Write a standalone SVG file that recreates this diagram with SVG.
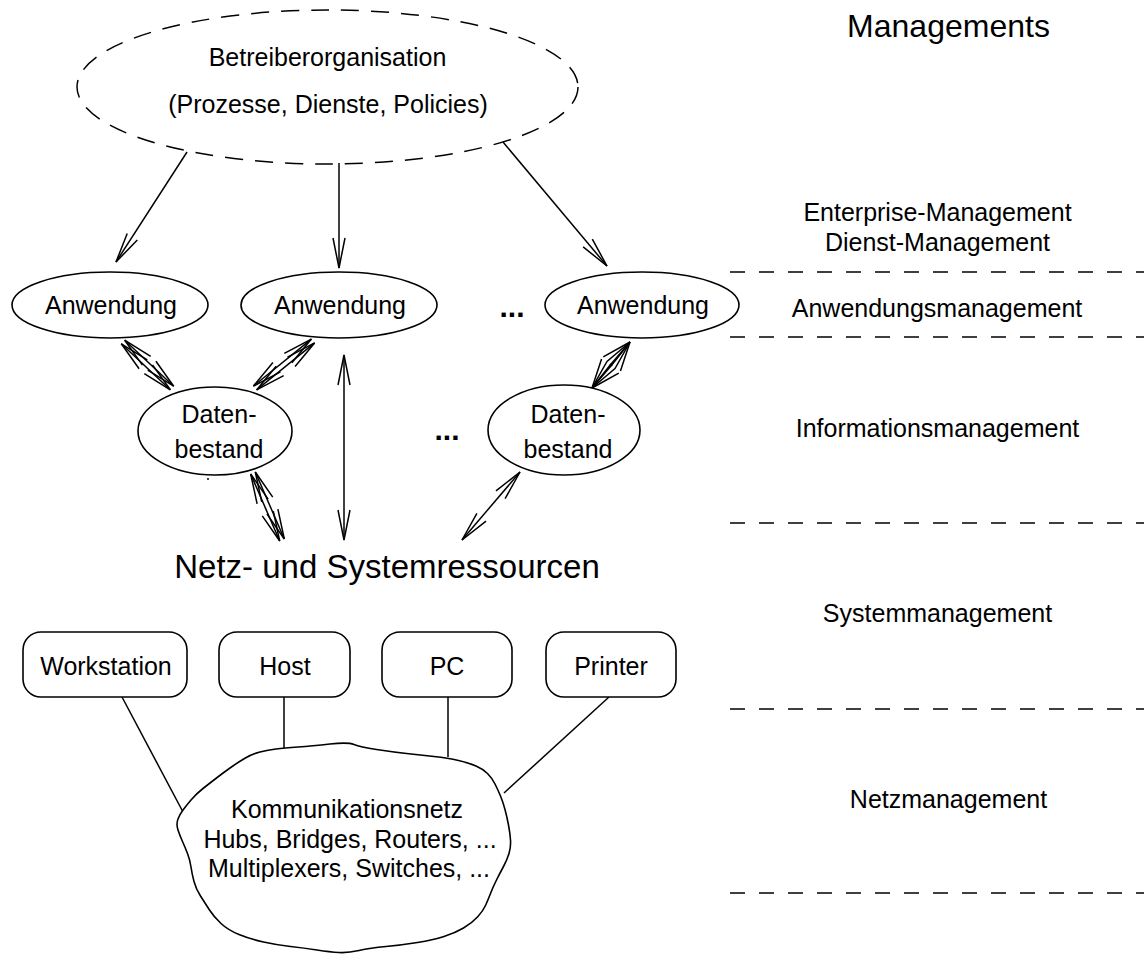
<svg xmlns="http://www.w3.org/2000/svg" width="1144" height="956" viewBox="0 0 1144 956">
<defs>
<marker id="ah" markerUnits="userSpaceOnUse" viewBox="-32 -8 34 16" refX="0" refY="0" markerWidth="34" markerHeight="16" orient="auto-start-reverse">
<path d="M-30,-6 L0,0 L-30,6" fill="none" stroke="#000" stroke-width="1.5"/>
</marker>
</defs>
<style>
.t{font-family:"Liberation Sans",Arial,sans-serif;font-size:25px;fill:#000;text-anchor:middle}
.n{fill:#fff;stroke:#000;stroke-width:1.6}
.c{fill:none;stroke:#000;stroke-width:1.5}
.a{marker-end:url(#ah)}
.aa{marker-start:url(#ah);marker-end:url(#ah)}
.d{fill:none;stroke:#000;stroke-width:1.5;stroke-dasharray:15 14}
</style>
<rect width="1144" height="956" fill="#fff"/>

<g id="levels">
<text class="t" x="948.5" y="37" style="font-size:32px">Managements</text>
<text class="t" x="937.5" y="221">Enterprise-Management</text>
<text class="t" x="937.5" y="251">Dienst-Management</text>
<line class="d" x1="730" y1="272" x2="1144" y2="272"/>
<text class="t" x="937" y="317">Anwendungsmanagement</text>
<line class="d" x1="730" y1="337" x2="1144" y2="337"/>
<text class="t" x="937.5" y="437">Informationsmanagement</text>
<line class="d" x1="730" y1="523" x2="1144" y2="523"/>
<text class="t" x="937.5" y="622">Systemmanagement</text>
<line class="d" x1="730" y1="709" x2="1144" y2="709"/>
<text class="t" x="948.5" y="808">Netzmanagement</text>
<line class="d" x1="730" y1="893" x2="1144" y2="893"/>
</g>

<g id="connectors">
<line class="c a" x1="187" y1="152" x2="116" y2="262"/>
<line class="c a" x1="339" y1="163" x2="339" y2="268"/>
<line class="c a" x1="503" y1="142" x2="607" y2="266"/>
<line class="c aa" x1="121.3" y1="343.8" x2="170.3" y2="389.8"/>
<line class="c aa" x1="124.7" y1="340.2" x2="173.7" y2="386.2"/>
<line class="c aa" x1="311.4" y1="339.1" x2="253.4" y2="386.1"/>
<line class="c aa" x1="314.6" y1="342.9" x2="256.6" y2="389.9"/>
<line class="c aa" x1="344" y1="355" x2="344" y2="540"/>
<polyline class="c aa" points="630,342 615,368.5 592,388"/>
<polyline class="c aa" points="630,342 607,361.5 592,388"/>
<line class="c aa" x1="250.7" y1="474" x2="279.7" y2="541"/>
<line class="c aa" x1="255.3" y1="472" x2="284.3" y2="539"/>
<line class="c aa" x1="520" y1="472" x2="462" y2="540"/>
<line class="c" x1="122" y1="697" x2="183" y2="812"/>
<line class="c" x1="284" y1="697" x2="284" y2="748"/>
<line class="c" x1="448" y1="697" x2="448" y2="757"/>
<line class="c" x1="609" y1="697" x2="504" y2="793"/>
</g>

<g id="betreiber">
<ellipse cx="327.5" cy="87" rx="250.5" ry="77" fill="none" stroke="#000" stroke-width="1.5" stroke-dasharray="18 12"/>
<text class="t" x="327.5" y="66">Betreiberorganisation</text>
<text class="t" x="328" y="113">(Prozesse, Dienste, Policies)</text>
</g>

<g id="anw1"><ellipse class="n" cx="110" cy="305" rx="98" ry="33"/><text class="t" x="111" y="314">Anwendung</text></g>
<g id="anw2"><ellipse class="n" cx="339" cy="305" rx="98" ry="33"/><text class="t" x="340" y="314">Anwendung</text></g>
<g id="dots1"><text class="t" x="512" y="317" style="font-weight:bold;font-size:30px">...</text></g>
<g id="anw3"><ellipse class="n" cx="642" cy="305" rx="97" ry="33"/><text class="t" x="643" y="314">Anwendung</text></g>

<g id="daten1"><ellipse class="n" cx="215" cy="431" rx="77" ry="44"/><text class="t" x="219" y="423">Daten-</text><text class="t" x="219" y="458">bestand</text></g>
<g id="dots2"><text class="t" x="447" y="440" style="font-weight:bold;font-size:30px">...</text></g>
<g id="daten2"><ellipse class="n" cx="564" cy="430" rx="76" ry="45"/><text class="t" x="568" y="423">Daten-</text><text class="t" x="568" y="458">bestand</text></g>
<circle cx="208" cy="479" r="1" fill="#000"/>

<g id="ressourcen"><text class="t" x="387" y="578" style="font-size:33px">Netz- und Systemressourcen</text></g>

<g id="workstation"><rect class="n" x="23" y="632" width="164" height="65" rx="18"/><text class="t" x="106" y="675">Workstation</text></g>
<g id="host"><rect class="n" x="219" y="632" width="131" height="65" rx="18"/><text class="t" x="285" y="675">Host</text></g>
<g id="pc"><rect class="n" x="382" y="632" width="130" height="65" rx="18"/><text class="t" x="447" y="675">PC</text></g>
<g id="printer"><rect class="n" x="546" y="632" width="130" height="65" rx="18"/><text class="t" x="611" y="675">Printer</text></g>

<g id="netz">
<path class="n" d="M276,749 Q284,748 298,747 Q312,746 330,744 Q348,742 354,744.5 Q360,747 376.5,749.5 Q393,752 406.5,753.5 Q420,755 434,756.5 Q448,758 458.5,760.5 Q469,763 476,766 Q483,769 487.5,773.5 Q492,778 495,784 Q498,790 500.5,796 Q503,802 505,809.5 Q507,817 508.5,825 Q510,833 510.5,840 Q511,847 509,853.5 Q507,860 503.5,866.5 Q500,873 496.5,880 Q493,887 490.5,893.5 Q488,900 485.5,905.5 Q483,911 477.5,917 Q472,923 463.5,928 Q455,933 444,936.5 Q433,940 417.5,942.5 Q402,945 386,946.5 Q370,948 359,950.5 Q348,953 339,952.5 Q330,952 317,950 Q304,948 290.5,946.5 Q277,945 263.5,942 Q250,939 239,934.5 Q228,930 221,923.5 Q214,917 209.5,910 Q205,903 200.5,896 Q196,889 194,881.5 Q192,874 191,867 Q190,860 187.5,853.5 Q185,847 182.5,841.5 Q180,836 178,830 Q176,824 178,819 Q180,814 183,810 Q186,806 191,800 Q196,794 203,788.5 Q210,783 216.5,778 Q223,773 230,768 Q237,763 244.5,758.5 Q252,754 260,752 Q268,750 276,749 Z"/>
<text class="t" x="347" y="818">Kommunikationsnetz</text>
<text class="t" x="350" y="848">Hubs, Bridges, Routers, ...</text>
<text class="t" x="349" y="877">Multiplexers, Switches, ...</text>
</g>
</svg>
